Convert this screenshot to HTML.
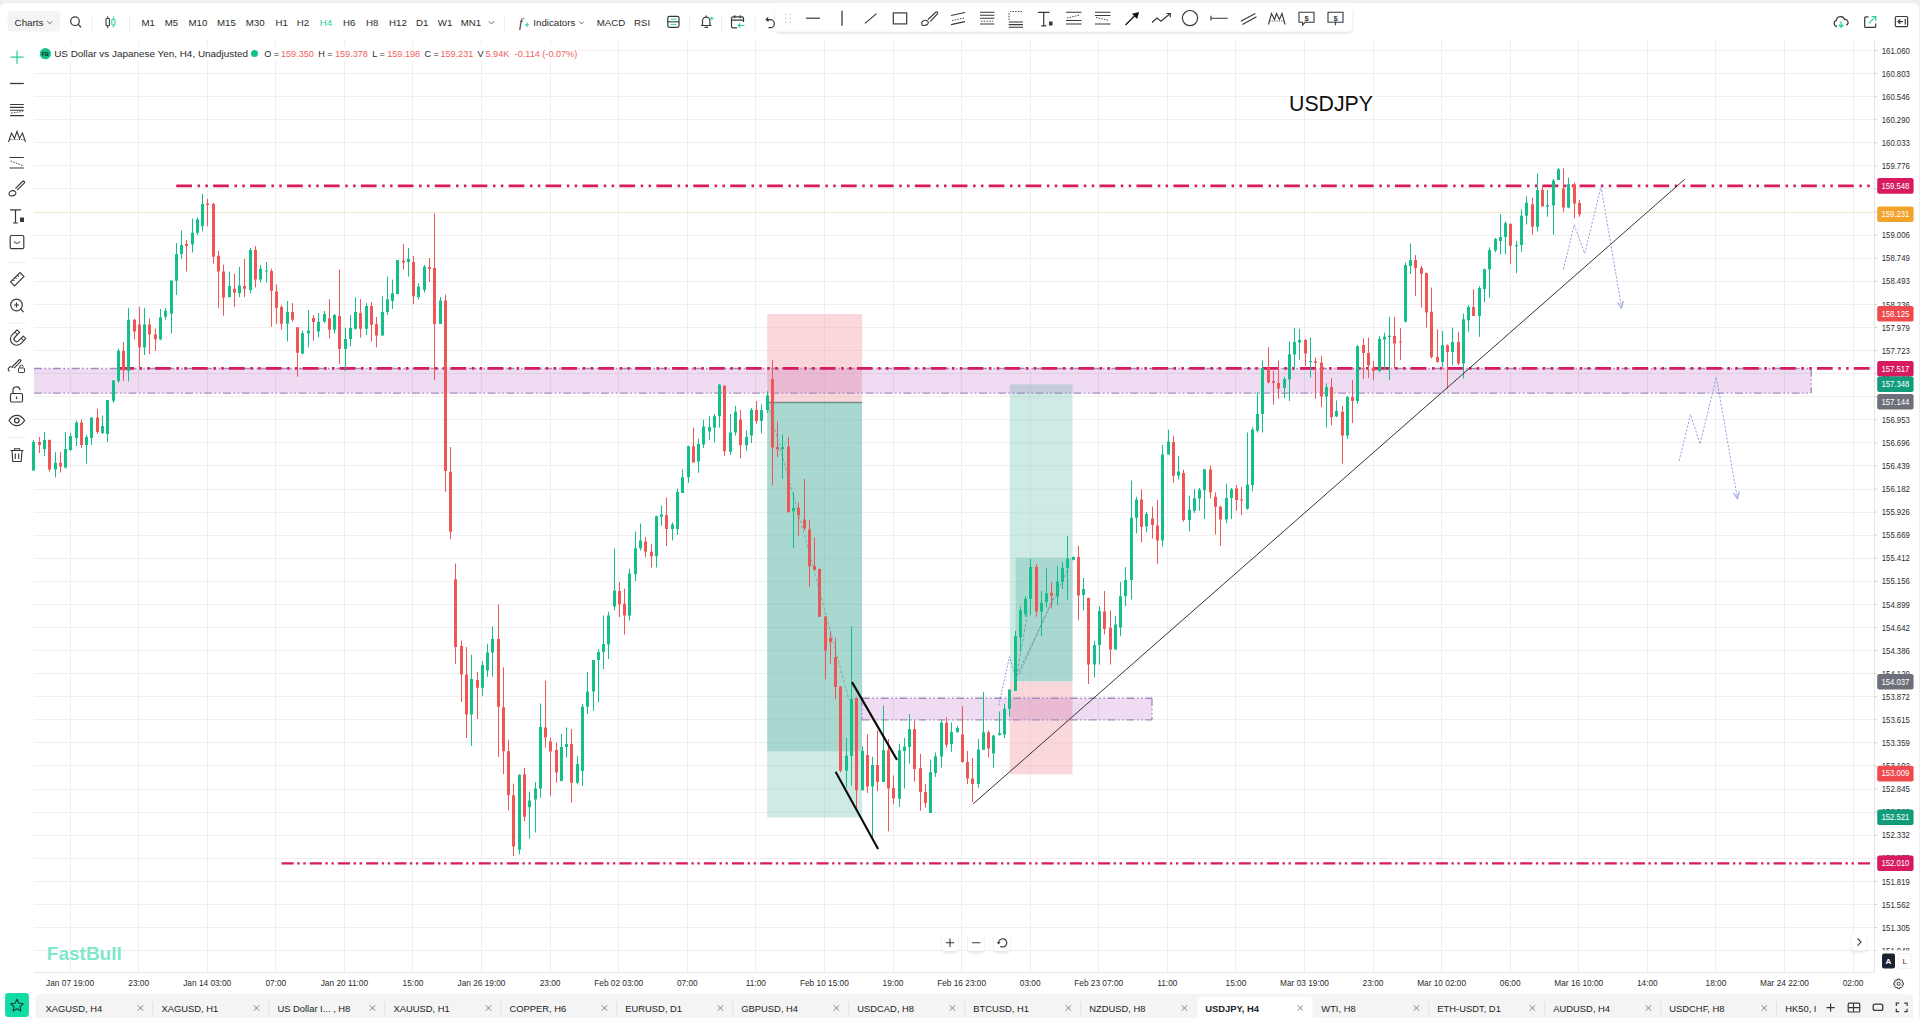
<!DOCTYPE html>
<html><head><meta charset="utf-8">
<style>
html,body{margin:0;padding:0;width:1920px;height:1018px;overflow:hidden;background:#efefef;}
svg{position:absolute;left:0;top:0;}
</style></head><body>
<svg width="1920" height="1018" viewBox="0 0 1920 1018" shape-rendering="auto">
<rect x="0" y="0" width="1920" height="1018" fill="#efefef"/>
<rect x="0" y="3" width="1919" height="1030" rx="6" fill="#ffffff"/>
<path d="M70.50 40V972.5M138.50 40V972.5M207.50 40V972.5M275.50 40V972.5M344.50 40V972.5M412.50 40V972.5M481.50 40V972.5M550.50 40V972.5M618.50 40V972.5M687.50 40V972.5M755.50 40V972.5M824.50 40V972.5M893.50 40V972.5M961.50 40V972.5M1030.50 40V972.5M1098.50 40V972.5M1167.50 40V972.5M1235.50 40V972.5M1304.50 40V972.5M1373.50 40V972.5M1441.50 40V972.5M1510.50 40V972.5M1578.50 40V972.5M1647.50 40V972.5M1715.50 40V972.5M1784.50 40V972.5M1853.50 40V972.5M34 50.50H1874.5M34 73.50H1874.5M34 96.50H1874.5M34 119.50H1874.5M34 142.50H1874.5M34 165.50H1874.5M34 188.50H1874.5M34 212.50H1874.5M34 235.50H1874.5M34 258.50H1874.5M34 281.50H1874.5M34 304.50H1874.5M34 327.50H1874.5M34 350.50H1874.5M34 373.50H1874.5M34 396.50H1874.5M34 419.50H1874.5M34 442.50H1874.5M34 465.50H1874.5M34 489.50H1874.5M34 512.50H1874.5M34 535.50H1874.5M34 558.50H1874.5M34 581.50H1874.5M34 604.50H1874.5M34 627.50H1874.5M34 650.50H1874.5M34 673.50H1874.5M34 696.50H1874.5M34 719.50H1874.5M34 742.50H1874.5M34 765.50H1874.5M34 789.50H1874.5M34 812.50H1874.5M34 835.50H1874.5M34 858.50H1874.5M34 881.50H1874.5M34 904.50H1874.5M34 927.50H1874.5M34 950.50H1874.5" stroke="#efefef" stroke-width="1" fill="none"/>
<path d="M1874.5 40V972.5M34 972.5H1874.5" stroke="#e6e6e6" stroke-width="1" fill="none"/>
<rect x="767.2" y="314" width="94.9" height="88.5" fill="#fad7da"/>
<rect x="767.2" y="402.5" width="94.9" height="349.2" fill="#a8d8d0"/>
<rect x="767.2" y="751.7" width="94.9" height="65.8" fill="#cdeae5"/>
<rect x="1009.8" y="384.4" width="62.7" height="297.1" fill="#cdeae5"/>
<rect x="1015.6" y="557.7" width="56.9" height="123.8" fill="#a8d8d0"/>
<rect x="1009.8" y="681.5" width="62.7" height="92.8" fill="#fad7da"/>
<path d="M767.2 327.46H862.1M767.2 350.54H862.1M767.2 373.62H862.1M767.2 396.70H862.1M1009.8 396.70H1072.5M767.2 419.78H862.1M1009.8 419.78H1072.5M767.2 442.86H862.1M1009.8 442.86H1072.5M767.2 465.94H862.1M1009.8 465.94H1072.5M767.2 489.02H862.1M1009.8 489.02H1072.5M767.2 512.10H862.1M1009.8 512.10H1072.5M767.2 535.18H862.1M1009.8 535.18H1072.5M767.2 558.26H862.1M1009.8 558.26H1072.5M767.2 581.34H862.1M1009.8 581.34H1072.5M767.2 604.42H862.1M1009.8 604.42H1072.5M767.2 627.50H862.1M1009.8 627.50H1072.5M767.2 650.58H862.1M1009.8 650.58H1072.5M767.2 673.66H862.1M1009.8 673.66H1072.5M767.2 696.74H862.1M1009.8 696.74H1072.5M767.2 719.82H862.1M1009.8 719.82H1072.5M767.2 742.90H862.1M1009.8 742.90H1072.5M767.2 765.98H862.1M1009.8 765.98H1072.5M767.2 789.06H862.1M767.2 812.14H862.1M824.43 314V817.5M1030.15 384.4V774.3" stroke="#000" stroke-opacity="0.045" stroke-width="1" fill="none"/>
<path d="M767.2 402.5H862.1" stroke="#6f8f89" stroke-width="1.6"/>
<rect x="34" y="368.6" width="1777.2" height="24.5" fill="#9c27b0" fill-opacity="0.16"/>
<rect x="861.8" y="698.2" width="290.2" height="21.6" fill="#9c27b0" fill-opacity="0.16"/>
<path d="M34 368.5H1811.2M34 393.1H1811.2M1811.2 368.5V393.1" stroke="#a08dc0" stroke-width="1.35" stroke-dasharray="7.9 2.6 1.6 2.6 1.6 2.6" fill="none"/>
<path d="M861.8 698.2H1152M861.8 719.8H1152M1152 698.2V719.8M861.8 698.2V719.8" stroke="#a08dc0" stroke-width="1.35" stroke-dasharray="7.9 2.6 1.6 2.6 1.6 2.6" fill="none"/>
<path d="M176.25 185.9H1870" stroke="#d81b5e" stroke-width="2.9" stroke-dasharray="15.7 5.6 2.5 5.35 2.5 5.28" fill="none"/>
<path d="M118.2 368.4H1870" stroke="#d81b5e" stroke-width="2.9" stroke-dasharray="15.7 5.6 2.5 5.35 2.5 5.28" fill="none"/>
<path d="M281.6 863.4H1870" stroke="#d81b5e" stroke-width="2.4" stroke-dasharray="12.15 3.5 2.4 3.6 2.4 4.1" fill="none"/>
<path d="M34 212.5H1874" stroke="#eed98f" stroke-width="1" stroke-dasharray="1 1" opacity="0.6" fill="none"/>
<path d="M33.50 440.0V470.6M44.50 432.0V456.0M55.50 452.0V477.5M65.50 432.0V468.6M70.50 433.0V451.0M76.50 420.5V446.0M86.50 435.0V463.7M91.50 417.5V445.0M102.50 415.6V434.0M107.50 400.0V442.0M113.50 380.0V402.8M118.50 348.8V383.0M128.50 307.9V381.5M144.50 307.9V355.0M160.50 308.9V340.3M165.50 307.9V319.7M171.50 280.4V333.4M176.50 243.0V295.0M181.50 230.3V258.8M192.50 218.5V252.5M197.50 217.5V235.0M202.50 193.9V231.3M229.50 271.7V297.2M239.50 266.8V297.2M250.50 248.0V293.3M260.50 264.8V282.5M266.50 262.0V282.5M287.50 301.0V341.5M302.50 330.6V354.2M308.50 310.0V347.3M318.50 313.0V337.5M324.50 311.0V322.8M334.50 314.0V333.6M345.50 327.7V371.0M350.50 315.0V346.4M355.50 297.2V329.7M366.50 303.0V335.0M382.50 296.3V335.6M387.50 276.6V315.0M392.50 279.6V309.0M397.50 260.0V294.3M408.50 248.0V276.6M418.50 283.0V299.5M424.50 265.0V292.5M440.50 297.0V324.0M471.50 654.8V746.0M482.50 661.0V695.7M487.50 643.8V676.8M492.50 626.5V676.8M519.50 774.3V854.5M529.50 791.6V838.7M535.50 782.0V832.5M540.50 703.5V797.9M561.50 734.0V781.0M566.50 727.5V757.6M577.50 756.0V784.3M582.50 704.0V786.0M587.50 672.0V714.0M593.50 660.6V710.8M598.50 649.0V702.4M603.50 615.5V669.0M608.50 612.0V659.0M614.50 548.6V610.4M629.50 568.6V620.5M635.50 531.4V581.0M640.50 523.5V550.6M656.50 515.6V567.5M661.50 505.4V525.8M672.50 522.4V540.4M677.50 488.5V534.8M682.50 469.3V493.0M688.50 445.6V482.9M698.50 438.8V472.7M703.50 419.7V448.0M709.50 416.3V440.0M714.50 414.0V442.2M719.50 384.0V427.6M730.50 414.0V455.0M735.50 405.8V435.6M746.50 430.2V450.7M751.50 408.0V443.0M761.50 404.3V433.4M767.50 391.3V413.0M782.50 434.5V478.8M793.50 492.8V548.0M846.50 738.0V787.5M851.50 626.0V785.7M862.50 746.5V790.3M872.50 756.8V837.0M883.50 705.4V782.0M899.50 743.7V807.0M904.50 738.0V788.5M909.50 714.0V763.6M930.50 759.6V813.0M935.50 752.5V777.0M941.50 720.3V767.5M951.50 722.7V751.8M957.50 725.8V732.9M978.50 739.0V788.0M983.50 692.0V749.7M993.50 735.0V767.6M999.50 711.4V735.6M1004.50 703.7V738.2M1009.50 691.0V716.5M1015.50 630.8V691.0M1020.50 606.5V651.0M1025.50 596.3V616.7M1030.50 559.0V615.4M1041.50 591.2V636.0M1046.50 568.4V607.3M1057.50 566.2V605.1M1062.50 561.9V589.0M1067.50 536.0V599.7M1073.50 556.5V560.4M1083.50 578.0V610.5M1094.50 640.8V677.6M1099.50 606.2V664.6M1115.50 616.0V649.5M1120.50 582.0V636.2M1125.50 567.0V606.0M1131.50 480.5V599.5M1136.50 496.8V533.5M1146.50 512.0V532.4M1162.50 444.9V546.5M1168.50 429.7V454.6M1178.50 455.7V479.5M1189.50 495.7V531.4M1194.50 488.8V513.0M1199.50 488.0V510.8M1204.50 469.2V519.0M1226.50 483.6V523.2M1231.50 488.0V519.0M1247.50 432.5V509.8M1252.50 427.3V491.2M1257.50 392.3V432.5M1262.50 360.3V432.5M1284.50 376.7V398.0M1289.50 341.4V401.0M1294.50 328.1V369.3M1299.50 328.8V359.8M1310.50 337.7V377.4M1326.50 383.3V427.5M1336.50 400.3V417.2M1347.50 396.0V438.9M1357.50 345.0V403.8M1379.50 336.0V372.2M1384.50 332.7V370.0M1389.50 316.8V380.0M1405.50 262.6V322.5M1410.50 243.4V274.0M1442.50 331.0V366.9M1452.50 327.7V365.2M1463.50 313.5V378.6M1468.50 305.0V331.8M1479.50 286.0V336.8M1484.50 268.5V302.3M1489.50 247.3V297.6M1495.50 237.8V252.0M1500.50 214.2V254.3M1505.50 221.3V254.3M1516.50 241.0V273.2M1521.50 209.5V252.0M1526.50 196.2V224.5M1537.50 173.4V231.5M1547.50 190.0V216.8M1553.50 178.9V234.7M1558.50 168.0V180.0M1568.50 177.5V208.4" stroke="#14bf8c" stroke-width="1" fill="none"/>
<path d="M39.50 437.0V453.0M49.50 439.5V471.5M60.50 452.0V472.5M81.50 419.5V448.0M97.50 408.7V434.0M123.50 342.0V381.0M134.50 318.7V339.3M139.50 306.9V367.8M149.50 318.7V354.0M155.50 328.5V351.0M186.50 240.0V271.5M207.50 198.8V226.3M213.50 202.8V263.7M218.50 250.9V307.9M223.50 264.7V315.7M234.50 273.7V307.0M244.50 259.0V297.2M255.50 246.0V287.4M271.50 268.8V326.7M276.50 284.5V323.8M281.50 305.0V329.7M292.50 303.0V321.8M297.50 327.3V376.8M313.50 315.0V340.5M329.50 299.2V338.5M339.50 269.7V364.0M360.50 299.2V337.5M371.50 302.0V341.5M376.50 317.0V347.3M403.50 244.0V269.7M413.50 256.0V304.0M429.50 258.0V282.0M434.50 213.4V380.0M445.50 294.6V492.0M450.50 447.0V539.0M455.50 563.6V664.0M461.50 640.6V702.0M466.50 647.0V738.0M477.50 672.0V719.0M498.50 604.5V757.0M503.50 667.4V774.0M508.50 739.7V810.4M513.50 783.7V856.0M524.50 768.0V821.4M545.50 680.7V747.6M550.50 737.5V796.0M556.50 742.5V782.7M571.50 729.0V802.7M619.50 582.0V617.0M624.50 588.7V634.5M645.50 537.0V557.4M651.50 543.8V567.5M666.50 497.5V546.0M693.50 427.6V462.6M724.50 385.3V455.8M740.50 410.0V458.3M756.50 401.0V423.7M772.50 360.0V485.3M777.50 421.6V457.2M788.50 436.7V512.3M798.50 502.5V536.0M804.50 478.8V530.6M809.50 519.8V586.8M814.50 537.5V570.0M819.50 568.4V616.8M825.50 616.0V679.4M830.50 631.0V663.6M835.50 637.7V699.0M840.50 685.9V772.6M856.50 697.6V809.0M867.50 734.4V793.0M877.50 730.6V791.3M888.50 739.0V831.4M893.50 775.4V804.3M914.50 720.3V781.6M920.50 754.0V810.7M925.50 784.0V807.6M946.50 717.2V747.8M962.50 706.2V762.8M967.50 751.0V784.0M972.50 758.0V802.0M988.50 730.5V757.4M1036.50 564.3V616.7M1051.50 582.4V608.4M1078.50 545.7V620.3M1088.50 597.6V684.0M1104.50 591.0V634.3M1110.50 610.5V664.6M1141.50 489.2V542.2M1152.50 506.5V538.5M1157.50 500.0V563.8M1173.50 436.2V482.7M1183.50 469.7V521.6M1210.50 465.5V498.5M1215.50 492.3V534.5M1220.50 505.7V545.9M1236.50 485.0V510.8M1241.50 487.0V515.0M1268.50 347.2V383.3M1273.50 370.8V404.7M1278.50 360.5V398.8M1305.50 339.0V365.7M1315.50 357.6V398.8M1321.50 356.0V406.9M1331.50 378.2V425.3M1342.50 406.0V463.7M1352.50 380.0V423.0M1363.50 338.3V379.0M1368.50 337.6V377.9M1373.50 361.0V380.0M1394.50 316.8V368.8M1400.50 328.0V359.8M1415.50 255.0V296.0M1421.50 265.9V307.6M1426.50 272.6V327.7M1431.50 287.6V358.5M1437.50 329.3V362.7M1447.50 344.4V388.6M1458.50 331.8V365.2M1473.50 289.3V316.0M1510.50 223.7V263.8M1532.50 197.7V234.7M1542.50 185.2V206.4M1563.50 168.4V211.8M1574.50 182.6V218.4M1579.50 200.0V216.8" stroke="#ef5656" stroke-width="1" fill="none"/>
<path d="M32.00 442.0h3V470.6h-3zM43.00 440.0h3V449.0h-3zM54.00 462.7h3V469.6h-3zM64.00 449.0h3V467.6h-3zM69.00 436.0h3V450.0h-3zM75.00 422.4h3V438.0h-3zM85.00 437.0h3V445.0h-3zM90.00 417.5h3V438.0h-3zM101.00 426.0h3V433.0h-3zM106.00 400.0h3V434.0h-3zM112.00 380.6h3V400.8h-3zM117.00 350.7h3V381.0h-3zM127.00 319.7h3V370.7h-3zM143.00 324.6h3V347.2h-3zM159.00 317.3h3V339.3h-3zM164.00 310.8h3V316.7h-3zM170.00 280.4h3V313.8h-3zM175.00 253.9h3V280.8h-3zM180.00 245.0h3V253.9h-3zM191.00 232.8h3V244.6h-3zM196.00 219.5h3V232.8h-3zM201.00 204.0h3V226.3h-3zM228.00 286.0h3V297.2h-3zM238.00 285.5h3V293.3h-3zM249.00 250.0h3V290.0h-3zM259.00 268.8h3V279.6h-3zM265.00 270.4h3V271.6h-3zM286.00 312.0h3V323.8h-3zM301.00 333.2h3V353.6h-3zM307.00 330.6h3V333.6h-3zM317.00 321.8h3V331.6h-3zM323.00 314.0h3V321.8h-3zM333.00 315.0h3V329.7h-3zM344.00 339.0h3V349.0h-3zM349.00 328.0h3V339.0h-3zM354.00 312.0h3V328.7h-3zM365.00 306.0h3V328.7h-3zM381.00 312.0h3V335.6h-3zM386.00 299.2h3V312.0h-3zM391.00 293.3h3V301.0h-3zM396.00 260.0h3V294.0h-3zM407.00 259.0h3V262.0h-3zM417.00 286.5h3V297.0h-3zM423.00 266.4h3V290.0h-3zM439.00 300.6h3V324.0h-3zM470.00 679.0h3V714.5h-3zM481.00 665.0h3V687.8h-3zM486.00 652.6h3V670.5h-3zM491.00 639.0h3V652.6h-3zM518.00 775.0h3V849.7h-3zM528.00 800.4h3V807.3h-3zM534.00 788.4h3V799.4h-3zM539.00 727.0h3V788.4h-3zM560.00 747.0h3V781.0h-3zM565.00 744.0h3V747.0h-3zM576.00 764.0h3V782.7h-3zM581.00 706.8h3V771.0h-3zM586.00 691.4h3V706.8h-3zM592.00 660.0h3V691.4h-3zM597.00 652.0h3V660.0h-3zM602.00 644.0h3V652.0h-3zM607.00 615.5h3V644.5h-3zM613.00 590.4h3V606.4h-3zM628.00 573.6h3V615.5h-3zM634.00 548.3h3V574.3h-3zM639.00 540.4h3V548.3h-3zM655.00 516.3h3V556.2h-3zM660.00 514.5h3V516.7h-3zM671.00 524.6h3V529.0h-3zM676.00 492.0h3V529.0h-3zM681.00 477.2h3V493.0h-3zM687.00 446.3h3V477.2h-3zM697.00 444.0h3V461.4h-3zM702.00 426.4h3V444.5h-3zM708.00 427.0h3V431.4h-3zM713.00 416.3h3V427.6h-3zM718.00 384.7h3V416.3h-3zM729.00 432.4h3V451.8h-3zM734.00 411.8h3V432.4h-3zM745.00 436.7h3V445.3h-3zM750.00 409.7h3V435.6h-3zM760.00 410.0h3V421.0h-3zM766.00 395.6h3V410.0h-3zM781.00 447.0h3V449.0h-3zM792.00 508.0h3V511.2h-3zM845.00 755.8h3V770.7h-3zM850.00 699.0h3V755.8h-3zM861.00 751.0h3V790.3h-3zM871.00 765.0h3V786.6h-3zM882.00 750.2h3V782.0h-3zM898.00 750.2h3V798.7h-3zM903.00 746.5h3V751.0h-3zM908.00 729.0h3V747.0h-3zM929.00 772.2h3V813.0h-3zM934.00 756.2h3V773.0h-3zM940.00 722.7h3V756.5h-3zM950.00 732.0h3V744.0h-3zM956.00 728.0h3V732.0h-3zM977.00 749.4h3V784.0h-3zM982.00 732.3h3V749.7h-3zM992.00 735.6h3V753.6h-3zM998.00 733.0h3V735.0h-3zM1003.00 708.8h3V734.4h-3zM1008.00 689.6h3V708.8h-3zM1014.00 636.0h3V691.0h-3zM1019.00 610.3h3V637.2h-3zM1024.00 598.8h3V614.2h-3zM1029.00 566.9h3V598.8h-3zM1040.00 602.7h3V611.6h-3zM1045.00 593.2h3V601.9h-3zM1056.00 581.4h3V596.5h-3zM1061.00 567.7h3V582.0h-3zM1066.00 558.6h3V567.7h-3zM1072.00 557.0h3V559.7h-3zM1082.00 589.0h3V595.0h-3zM1093.00 645.0h3V664.6h-3zM1098.00 611.0h3V645.0h-3zM1114.00 624.6h3V649.5h-3zM1119.00 596.2h3V627.6h-3zM1124.00 580.0h3V596.2h-3zM1130.00 517.7h3V580.0h-3zM1135.00 499.6h3V517.7h-3zM1145.00 514.0h3V526.4h-3zM1161.00 454.6h3V540.6h-3zM1167.00 441.6h3V454.6h-3zM1177.00 471.5h3V475.8h-3zM1188.00 509.7h3V519.9h-3zM1193.00 498.3h3V510.8h-3zM1198.00 489.8h3V498.5h-3zM1203.00 469.2h3V490.2h-3zM1225.00 498.0h3V519.5h-3zM1230.00 489.2h3V498.0h-3zM1246.00 484.4h3V508.8h-3zM1251.00 429.4h3V485.0h-3zM1256.00 414.0h3V430.8h-3zM1261.00 368.0h3V414.0h-3zM1283.00 379.0h3V387.7h-3zM1288.00 354.2h3V379.6h-3zM1293.00 342.0h3V354.6h-3zM1298.00 340.0h3V342.4h-3zM1309.00 360.9h3V362.1h-3zM1325.00 387.0h3V396.6h-3zM1335.00 411.0h3V416.5h-3zM1346.00 397.0h3V435.5h-3zM1356.00 346.2h3V401.0h-3zM1378.00 339.0h3V371.0h-3zM1383.00 336.7h3V339.4h-3zM1388.00 335.8h3V337.0h-3zM1404.00 264.9h3V321.4h-3zM1409.00 260.3h3V266.0h-3zM1441.00 345.2h3V361.9h-3zM1451.00 341.9h3V351.9h-3zM1462.00 319.3h3V363.6h-3zM1467.00 307.1h3V320.2h-3zM1478.00 288.0h3V316.0h-3zM1483.00 269.3h3V289.0h-3zM1488.00 250.0h3V269.3h-3zM1494.00 239.0h3V250.4h-3zM1499.00 237.0h3V241.0h-3zM1504.00 223.2h3V237.0h-3zM1515.00 245.0h3V246.2h-3zM1520.00 215.8h3V245.0h-3zM1525.00 202.8h3V215.8h-3zM1536.00 189.9h3V226.8h-3zM1546.00 205.0h3V206.4h-3zM1552.00 180.4h3V205.6h-3zM1557.00 169.2h3V180.0h-3zM1567.00 184.2h3V207.6h-3z" fill="#14bf8c"/>
<path d="M38.00 442.0h3V445.0h-3zM48.00 440.0h3V469.6h-3zM59.00 462.7h3V466.6h-3zM80.00 422.4h3V445.0h-3zM96.00 417.5h3V432.0h-3zM122.00 350.7h3V370.4h-3zM133.00 319.7h3V331.5h-3zM138.00 324.6h3V347.2h-3zM148.00 324.6h3V334.4h-3zM154.00 334.4h3V339.3h-3zM185.00 244.0h3V246.0h-3zM206.00 203.5h3V205.0h-3zM212.00 204.0h3V256.8h-3zM217.00 255.8h3V271.5h-3zM222.00 271.5h3V297.7h-3zM233.00 288.8h3V292.7h-3zM243.00 286.0h3V288.8h-3zM254.00 250.0h3V279.6h-3zM270.00 271.0h3V290.8h-3zM275.00 291.4h3V307.7h-3zM280.00 307.0h3V323.8h-3zM291.00 312.0h3V319.8h-3zM296.00 327.3h3V352.8h-3zM312.00 318.0h3V322.0h-3zM328.00 318.3h3V329.7h-3zM338.00 316.0h3V349.0h-3zM359.00 313.0h3V328.7h-3zM370.00 306.0h3V324.8h-3zM375.00 324.0h3V335.6h-3zM402.00 260.5h3V262.5h-3zM412.00 262.0h3V296.3h-3zM428.00 267.0h3V269.0h-3zM433.00 268.0h3V324.0h-3zM444.00 300.6h3V471.0h-3zM449.00 471.8h3V531.8h-3zM454.00 579.3h3V647.0h-3zM460.00 646.0h3V674.6h-3zM465.00 674.6h3V714.5h-3zM476.00 680.0h3V687.8h-3zM497.00 639.0h3V706.7h-3zM502.00 707.3h3V751.3h-3zM507.00 751.3h3V795.3h-3zM512.00 795.3h3V846.6h-3zM523.00 774.3h3V816.7h-3zM544.00 727.5h3V737.5h-3zM549.00 741.5h3V751.6h-3zM555.00 750.0h3V772.6h-3zM570.00 744.0h3V782.7h-3zM618.00 591.0h3V604.4h-3zM623.00 603.7h3V615.5h-3zM644.00 541.6h3V551.7h-3zM650.00 551.7h3V556.2h-3zM665.00 515.0h3V529.0h-3zM692.00 446.3h3V462.6h-3zM723.00 385.8h3V451.3h-3zM739.00 419.4h3V445.3h-3zM755.00 410.0h3V421.0h-3zM771.00 379.0h3V447.5h-3zM776.00 447.0h3V449.6h-3zM787.00 446.4h3V512.3h-3zM797.00 508.0h3V515.0h-3zM803.00 519.4h3V528.5h-3zM808.00 529.5h3V566.3h-3zM813.00 566.0h3V570.0h-3zM818.00 569.0h3V616.8h-3zM824.00 616.5h3V650.5h-3zM829.00 638.0h3V642.0h-3zM834.00 656.9h3V687.0h-3zM839.00 686.4h3V770.7h-3zM855.00 698.0h3V790.3h-3zM866.00 755.0h3V786.6h-3zM876.00 765.0h3V782.0h-3zM887.00 750.2h3V788.5h-3zM892.00 788.0h3V798.4h-3zM913.00 729.0h3V769.0h-3zM919.00 768.3h3V791.9h-3zM924.00 791.9h3V802.9h-3zM945.00 722.7h3V744.7h-3zM961.00 734.5h3V762.0h-3zM966.00 762.0h3V778.5h-3zM971.00 778.5h3V784.0h-3zM987.00 732.3h3V748.4h-3zM1035.00 566.9h3V611.6h-3zM1050.00 592.8h3V595.8h-3zM1077.00 557.0h3V595.4h-3zM1087.00 598.0h3V664.6h-3zM1103.00 611.6h3V629.0h-3zM1109.00 627.8h3V649.5h-3zM1140.00 499.6h3V527.0h-3zM1151.00 518.4h3V524.9h-3zM1156.00 525.5h3V540.6h-3zM1172.00 442.0h3V475.8h-3zM1182.00 473.0h3V519.9h-3zM1209.00 469.6h3V492.3h-3zM1214.00 496.8h3V506.7h-3zM1219.00 506.7h3V519.5h-3zM1235.00 488.6h3V500.0h-3zM1240.00 499.4h3V500.6h-3zM1267.00 367.4h3V382.6h-3zM1272.00 381.0h3V383.0h-3zM1277.00 383.0h3V388.5h-3zM1304.00 339.9h3V353.6h-3zM1314.00 361.2h3V362.7h-3zM1320.00 362.7h3V396.6h-3zM1330.00 387.0h3V416.9h-3zM1341.00 411.8h3V435.5h-3zM1351.00 397.0h3V401.0h-3zM1362.00 345.0h3V353.0h-3zM1367.00 353.0h3V365.4h-3zM1372.00 367.7h3V371.0h-3zM1393.00 336.0h3V343.5h-3zM1399.00 341.4h3V342.6h-3zM1414.00 260.0h3V268.0h-3zM1420.00 268.0h3V273.7h-3zM1425.00 273.0h3V312.6h-3zM1430.00 311.8h3V356.9h-3zM1436.00 356.9h3V361.9h-3zM1446.00 345.2h3V351.9h-3zM1457.00 341.9h3V363.6h-3zM1472.00 307.1h3V316.0h-3zM1509.00 223.7h3V245.7h-3zM1531.00 204.3h3V226.8h-3zM1541.00 189.9h3V206.4h-3zM1562.00 188.4h3V207.6h-3zM1573.00 184.2h3V203.4h-3zM1578.00 203.1h3V214.3h-3z" fill="#ef5656"/>
<path d="M768 405L808 548L830 630L849 700" stroke="#5c9e92" stroke-width="1" stroke-dasharray="3 2" fill="none" opacity="0.7"/>
<path d="M998.8 705.3L1009.5 656.7L1014.8 674.4" stroke="#6f7fcf" stroke-width="1" stroke-dasharray="2 1.5" fill="none" opacity="0.8"/>
<path d="M1016.5 676.2L1028 610.7M1016.5 676.2L1067.8 570M1019.5 674L1053.7 596.6" stroke="#5c8f9e" stroke-width="1" stroke-dasharray="3 2" fill="none" opacity="0.75"/>
<path d="M973.1 803.9L1684.7 179.3" stroke="#2a2a2a" stroke-width="0.95" fill="none"/>
<path d="M852 682.1L897 759.9M835.6 771.7L878.1 849.1" stroke="#0a0a0a" stroke-width="2.1" fill="none"/>
<path d="M1563.4 269.4L1574.2 225L1584.7 253.5L1601 186.7L1621.5 307" stroke="#93a4e2" stroke-width="1" stroke-dasharray="2.2 1.6" fill="none"/>
<path d="M1617.5 302.5L1621.5 308L1623.3 301" stroke="#93a4e2" stroke-width="1.1" fill="none"/>
<path d="M1679.1 460.9L1690.5 414.5L1700 444L1716.4 377L1737.3 497.7" stroke="#93a4e2" stroke-width="1" stroke-dasharray="2.2 1.6" fill="none"/>
<path d="M1733.5 493L1737.3 498.5L1739.5 491.5" stroke="#93a4e2" stroke-width="1.1" fill="none"/>
<path d="M1874.5 50.50h2.5M1874.5 73.58h2.5M1874.5 96.66h2.5M1874.5 119.74h2.5M1874.5 142.82h2.5M1874.5 165.90h2.5M1874.5 188.98h2.5M1874.5 212.06h2.5M1874.5 235.14h2.5M1874.5 258.22h2.5M1874.5 281.30h2.5M1874.5 304.38h2.5M1874.5 327.46h2.5M1874.5 350.54h2.5M1874.5 373.62h2.5M1874.5 396.70h2.5M1874.5 419.78h2.5M1874.5 442.86h2.5M1874.5 465.94h2.5M1874.5 489.02h2.5M1874.5 512.10h2.5M1874.5 535.18h2.5M1874.5 558.26h2.5M1874.5 581.34h2.5M1874.5 604.42h2.5M1874.5 627.50h2.5M1874.5 650.58h2.5M1874.5 673.66h2.5M1874.5 696.74h2.5M1874.5 719.82h2.5M1874.5 742.90h2.5M1874.5 765.98h2.5M1874.5 789.06h2.5M1874.5 812.14h2.5M1874.5 835.22h2.5M1874.5 858.30h2.5M1874.5 881.38h2.5M1874.5 904.46h2.5M1874.5 927.54h2.5M1874.5 950.62h2.5" stroke="#d0d0d0" stroke-width="1"/>
<g font-family="Liberation Sans, sans-serif" font-size="8.5" fill="#2b2b2b"><text x="1881.8" y="53.6" textLength="28" lengthAdjust="spacingAndGlyphs">161.060</text><text x="1881.8" y="76.7" textLength="28" lengthAdjust="spacingAndGlyphs">160.803</text><text x="1881.8" y="99.8" textLength="28" lengthAdjust="spacingAndGlyphs">160.546</text><text x="1881.8" y="122.8" textLength="28" lengthAdjust="spacingAndGlyphs">160.290</text><text x="1881.8" y="145.9" textLength="28" lengthAdjust="spacingAndGlyphs">160.033</text><text x="1881.8" y="169.0" textLength="28" lengthAdjust="spacingAndGlyphs">159.776</text><text x="1881.8" y="192.1" textLength="28" lengthAdjust="spacingAndGlyphs">159.519</text><text x="1881.8" y="215.2" textLength="28" lengthAdjust="spacingAndGlyphs">159.263</text><text x="1881.8" y="238.2" textLength="28" lengthAdjust="spacingAndGlyphs">159.006</text><text x="1881.8" y="261.3" textLength="28" lengthAdjust="spacingAndGlyphs">158.749</text><text x="1881.8" y="284.4" textLength="28" lengthAdjust="spacingAndGlyphs">158.493</text><text x="1881.8" y="307.5" textLength="28" lengthAdjust="spacingAndGlyphs">158.236</text><text x="1881.8" y="330.6" textLength="28" lengthAdjust="spacingAndGlyphs">157.979</text><text x="1881.8" y="353.6" textLength="28" lengthAdjust="spacingAndGlyphs">157.723</text><text x="1881.8" y="376.7" textLength="28" lengthAdjust="spacingAndGlyphs">157.466</text><text x="1881.8" y="399.8" textLength="28" lengthAdjust="spacingAndGlyphs">157.209</text><text x="1881.8" y="422.9" textLength="28" lengthAdjust="spacingAndGlyphs">156.953</text><text x="1881.8" y="446.0" textLength="28" lengthAdjust="spacingAndGlyphs">156.696</text><text x="1881.8" y="469.0" textLength="28" lengthAdjust="spacingAndGlyphs">156.439</text><text x="1881.8" y="492.1" textLength="28" lengthAdjust="spacingAndGlyphs">156.182</text><text x="1881.8" y="515.2" textLength="28" lengthAdjust="spacingAndGlyphs">155.926</text><text x="1881.8" y="538.3" textLength="28" lengthAdjust="spacingAndGlyphs">155.669</text><text x="1881.8" y="561.4" textLength="28" lengthAdjust="spacingAndGlyphs">155.412</text><text x="1881.8" y="584.4" textLength="28" lengthAdjust="spacingAndGlyphs">155.156</text><text x="1881.8" y="607.5" textLength="28" lengthAdjust="spacingAndGlyphs">154.899</text><text x="1881.8" y="630.6" textLength="28" lengthAdjust="spacingAndGlyphs">154.642</text><text x="1881.8" y="653.7" textLength="28" lengthAdjust="spacingAndGlyphs">154.386</text><text x="1881.8" y="676.8" textLength="28" lengthAdjust="spacingAndGlyphs">154.129</text><text x="1881.8" y="699.8" textLength="28" lengthAdjust="spacingAndGlyphs">153.872</text><text x="1881.8" y="722.9" textLength="28" lengthAdjust="spacingAndGlyphs">153.615</text><text x="1881.8" y="746.0" textLength="28" lengthAdjust="spacingAndGlyphs">153.359</text><text x="1881.8" y="769.1" textLength="28" lengthAdjust="spacingAndGlyphs">153.102</text><text x="1881.8" y="792.2" textLength="28" lengthAdjust="spacingAndGlyphs">152.845</text><text x="1881.8" y="815.2" textLength="28" lengthAdjust="spacingAndGlyphs">152.589</text><text x="1881.8" y="838.3" textLength="28" lengthAdjust="spacingAndGlyphs">152.332</text><text x="1881.8" y="861.4" textLength="28" lengthAdjust="spacingAndGlyphs">152.075</text><text x="1881.8" y="884.5" textLength="28" lengthAdjust="spacingAndGlyphs">151.819</text><text x="1881.8" y="907.6" textLength="28" lengthAdjust="spacingAndGlyphs">151.562</text><text x="1881.8" y="930.6" textLength="28" lengthAdjust="spacingAndGlyphs">151.305</text><text x="1881.8" y="953.7" textLength="28" lengthAdjust="spacingAndGlyphs">151.048</text></g>
<rect x="1876" y="950.4" width="42" height="21.5" fill="#ffffff"/>
<rect x="1877.2" y="178.1" width="36.4" height="15.6" rx="2" fill="#d81b60"/>
<text x="1895.4" y="188.7" text-anchor="middle" font-family="Liberation Sans, sans-serif" font-size="8.5" fill="#ffffff" textLength="28" lengthAdjust="spacingAndGlyphs">159.548</text>
<rect x="1877.2" y="206.4" width="36.4" height="15.6" rx="2" fill="#f2a32c"/>
<text x="1895.4" y="217.0" text-anchor="middle" font-family="Liberation Sans, sans-serif" font-size="8.5" fill="#ffffff" textLength="28" lengthAdjust="spacingAndGlyphs">159.231</text>
<rect x="1877.2" y="305.9" width="36.4" height="15.6" rx="2" fill="#ef4a4e"/>
<text x="1895.4" y="316.5" text-anchor="middle" font-family="Liberation Sans, sans-serif" font-size="8.5" fill="#ffffff" textLength="28" lengthAdjust="spacingAndGlyphs">158.125</text>
<rect x="1877.2" y="361.0" width="36.4" height="15.6" rx="2" fill="#d81b60"/>
<text x="1895.4" y="371.6" text-anchor="middle" font-family="Liberation Sans, sans-serif" font-size="8.5" fill="#ffffff" textLength="28" lengthAdjust="spacingAndGlyphs">157.517</text>
<rect x="1877.2" y="376.4" width="36.4" height="15.6" rx="2" fill="#139c7c"/>
<text x="1895.4" y="387.0" text-anchor="middle" font-family="Liberation Sans, sans-serif" font-size="8.5" fill="#ffffff" textLength="28" lengthAdjust="spacingAndGlyphs">157.348</text>
<rect x="1877.2" y="394.0" width="36.4" height="15.6" rx="2" fill="#6e7079"/>
<text x="1895.4" y="404.6" text-anchor="middle" font-family="Liberation Sans, sans-serif" font-size="8.5" fill="#ffffff" textLength="28" lengthAdjust="spacingAndGlyphs">157.144</text>
<rect x="1877.2" y="674.0" width="36.4" height="15.6" rx="2" fill="#6e7079"/>
<text x="1895.4" y="684.6" text-anchor="middle" font-family="Liberation Sans, sans-serif" font-size="8.5" fill="#ffffff" textLength="28" lengthAdjust="spacingAndGlyphs">154.037</text>
<rect x="1877.2" y="765.8" width="36.4" height="15.6" rx="2" fill="#ef4a4e"/>
<text x="1895.4" y="776.4" text-anchor="middle" font-family="Liberation Sans, sans-serif" font-size="8.5" fill="#ffffff" textLength="28" lengthAdjust="spacingAndGlyphs">153.009</text>
<rect x="1877.2" y="809.5" width="36.4" height="15.6" rx="2" fill="#139c7c"/>
<text x="1895.4" y="820.1" text-anchor="middle" font-family="Liberation Sans, sans-serif" font-size="8.5" fill="#ffffff" textLength="28" lengthAdjust="spacingAndGlyphs">152.521</text>
<rect x="1877.2" y="855.5" width="36.4" height="15.6" rx="2" fill="#d81b60"/>
<text x="1895.4" y="866.1" text-anchor="middle" font-family="Liberation Sans, sans-serif" font-size="8.5" fill="#ffffff" textLength="28" lengthAdjust="spacingAndGlyphs">152.010</text>
<g font-family="Liberation Sans, sans-serif" font-size="8.3" fill="#2b2b2b"><text x="70.1" y="985.8" text-anchor="middle">Jan 07 19:00</text><text x="138.7" y="985.8" text-anchor="middle">23:00</text><text x="207.2" y="985.8" text-anchor="middle">Jan 14 03:00</text><text x="275.8" y="985.8" text-anchor="middle">07:00</text><text x="344.4" y="985.8" text-anchor="middle">Jan 20 11:00</text><text x="413.0" y="985.8" text-anchor="middle">15:00</text><text x="481.5" y="985.8" text-anchor="middle">Jan 26 19:00</text><text x="550.1" y="985.8" text-anchor="middle">23:00</text><text x="618.7" y="985.8" text-anchor="middle">Feb 02 03:00</text><text x="687.3" y="985.8" text-anchor="middle">07:00</text><text x="755.9" y="985.8" text-anchor="middle">11:00</text><text x="824.4" y="985.8" text-anchor="middle">Feb 10 15:00</text><text x="893.0" y="985.8" text-anchor="middle">19:00</text><text x="961.6" y="985.8" text-anchor="middle">Feb 16 23:00</text><text x="1030.2" y="985.8" text-anchor="middle">03:00</text><text x="1098.7" y="985.8" text-anchor="middle">Feb 23 07:00</text><text x="1167.3" y="985.8" text-anchor="middle">11:00</text><text x="1235.9" y="985.8" text-anchor="middle">15:00</text><text x="1304.5" y="985.8" text-anchor="middle">Mar 03 19:00</text><text x="1373.0" y="985.8" text-anchor="middle">23:00</text><text x="1441.6" y="985.8" text-anchor="middle">Mar 10 02:00</text><text x="1510.2" y="985.8" text-anchor="middle">06:00</text><text x="1578.8" y="985.8" text-anchor="middle">Mar 16 10:00</text><text x="1647.3" y="985.8" text-anchor="middle">14:00</text><text x="1715.9" y="985.8" text-anchor="middle">18:00</text><text x="1784.5" y="985.8" text-anchor="middle">Mar 24 22:00</text><text x="1853.1" y="985.8" text-anchor="middle">02:00</text></g>
<rect x="7.5" y="11" width="52.5" height="20.5" rx="4" fill="#f4f4f4"/>
<text x="14.6" y="25.7" font-family="Liberation Sans, sans-serif" font-size="9.8" fill="#2a2a2a">Charts</text>
<path d="M47.3 21.3l2.4 2.4 2.4-2.4" stroke="#555" stroke-width="0.9" fill="none"/>
<circle cx="75" cy="21.2" r="4.3" stroke="#333a40" stroke-width="1.2" fill="none"/><path d="M78.2 24.4L81 27.2" stroke="#333a40" stroke-width="1.3"/>
<path d="M92 16V31M129.5 16V31" stroke="#ececec" stroke-width="1"/>
<path d="M107.7 16.2V28.3" stroke="#333a40" stroke-width="1"/><rect x="106" y="18.5" width="3.4" height="7.2" rx="0.8" fill="#fff" stroke="#333a40" stroke-width="1.1"/>
<path d="M113.4 16.5V27.5" stroke="#2fd1a6" stroke-width="1"/><rect x="111.8" y="19.5" width="3.2" height="5.5" rx="0.8" fill="#fff" stroke="#2fd1a6" stroke-width="1.1"/>
<text x="141.5" y="26.1" font-family="Liberation Sans, sans-serif" font-size="9.7" fill="#2a2a2a">M1</text>
<text x="164.8" y="26.1" font-family="Liberation Sans, sans-serif" font-size="9.7" fill="#2a2a2a">M5</text>
<text x="188.5" y="26.1" font-family="Liberation Sans, sans-serif" font-size="9.7" fill="#2a2a2a">M10</text>
<text x="217" y="26.1" font-family="Liberation Sans, sans-serif" font-size="9.7" fill="#2a2a2a">M15</text>
<text x="245.8" y="26.1" font-family="Liberation Sans, sans-serif" font-size="9.7" fill="#2a2a2a">M30</text>
<text x="275.5" y="26.1" font-family="Liberation Sans, sans-serif" font-size="9.7" fill="#2a2a2a">H1</text>
<text x="296.8" y="26.1" font-family="Liberation Sans, sans-serif" font-size="9.7" fill="#2a2a2a">H2</text>
<text x="319.8" y="26.1" font-family="Liberation Sans, sans-serif" font-size="9.7" fill="#26cfa0">H4</text>
<text x="342.9" y="26.1" font-family="Liberation Sans, sans-serif" font-size="9.7" fill="#2a2a2a">H6</text>
<text x="365.9" y="26.1" font-family="Liberation Sans, sans-serif" font-size="9.7" fill="#2a2a2a">H8</text>
<text x="389" y="26.1" font-family="Liberation Sans, sans-serif" font-size="9.7" fill="#2a2a2a">H12</text>
<text x="415.9" y="26.1" font-family="Liberation Sans, sans-serif" font-size="9.7" fill="#2a2a2a">D1</text>
<text x="437.8" y="26.1" font-family="Liberation Sans, sans-serif" font-size="9.7" fill="#2a2a2a">W1</text>
<text x="460.7" y="26.1" font-family="Liberation Sans, sans-serif" font-size="9.7" fill="#2a2a2a">MN1</text>
<path d="M488.8 21.3l2.6 2.6 2.6-2.6" stroke="#555" stroke-width="0.9" fill="none"/>
<path d="M504.5 16V31M689.4 16V31M721.5 16V31M755 16V31" stroke="#ececec" stroke-width="1"/>
<text x="519" y="27" font-family="Liberation Serif, serif" font-style="italic" font-size="13" fill="#2a2a2a">f</text>
<path d="M525 24.8h4.2M527.1 22.7v4.2" stroke="#26cfa0" stroke-width="1.1"/>
<text x="533.3" y="26.1" font-family="Liberation Sans, sans-serif" font-size="9.7" fill="#2a2a2a">Indicators</text>
<path d="M579.3 21.6l2.2 2.2 2.2-2.2" stroke="#555" stroke-width="0.9" fill="none"/>
<text x="596.8" y="26.1" font-family="Liberation Sans, sans-serif" font-size="9.7" fill="#2a2a2a">MACD</text>
<text x="634" y="26.1" font-family="Liberation Sans, sans-serif" font-size="9.7" fill="#2a2a2a">RSI</text>
<rect x="667.8" y="16.3" width="11.2" height="11" rx="1.5" stroke="#333a40" stroke-width="1.2" fill="none"/><path d="M667.8 21.8H679" stroke="#333a40" stroke-width="1.1"/><path d="M670.5 19.2h6M670.5 24.4h6" stroke="#26cfa0" stroke-width="0.9"/>
<path d="M701 25.5h10.5M702.5 25.3v-4.5a3.7 3.7 0 0 1 7.4 0v4.5M704.5 27.3h3.5M706.2 15.5v1.3" stroke="#333a40" stroke-width="1.2" fill="none"/><path d="M710 18.3h3.6M711.8 16.5v3.6" stroke="#26cfa0" stroke-width="1"/>
<path d="M743.5 22V18.2a1.4 1.4 0 0 0-1.4-1.4h-9.2a1.4 1.4 0 0 0-1.4 1.4v8.2a1.4 1.4 0 0 0 1.4 1.4h4.2M731.5 20.2h12M734.7 15.3v3M740.3 15.3v3" stroke="#333a40" stroke-width="1.2" fill="none"/><path d="M744.5 25.5h-6.2M740.3 23.5l-2 2 2 2" stroke="#26cfa0" stroke-width="1.1" fill="none"/>
<path d="M768.2 17.5l-2 2.2 2.4 1.6M766.5 19.7h3.8a4 4 0 0 1 0 8h-1.8" stroke="#333a40" stroke-width="1.2" fill="none"/>
<defs><filter id="sh" x="-5%" y="-50%" width="110%" height="200%"><feDropShadow dx="0" dy="1.5" stdDeviation="1.6" flood-color="#000" flood-opacity="0.13"/></filter></defs>
<rect x="775.3" y="6.8" width="576.7" height="24.8" rx="4" fill="#ffffff" filter="url(#sh)"/>
<circle cx="785.6" cy="14.2" r="0.55" fill="#999"/><circle cx="785.6" cy="18.2" r="0.55" fill="#999"/><circle cx="785.6" cy="22.2" r="0.55" fill="#999"/><circle cx="790.2" cy="14.2" r="0.55" fill="#999"/><circle cx="790.2" cy="18.2" r="0.55" fill="#999"/><circle cx="790.2" cy="22.2" r="0.55" fill="#999"/>

<path d="M806 18.2H820" stroke="#333a40" stroke-width="1.2"/>
<path d="M842 10.7V25.8" stroke="#333a40" stroke-width="1.3"/>
<path d="M865 23.4L876.5 13.6" stroke="#333a40" stroke-width="1.1"/>
<rect x="893.3" y="12.9" width="13.4" height="11" stroke="#333a40" stroke-width="1.2" fill="none"/>
<path d="M928 19.5l8-7.5a1.2 1.2 0 0 1 1.6 1.6l-7.5 8M923.5 25.5c-2 0-2.5-2.5-1-4 1.3-1.3 3.8-1.8 5.2-.3 1.4 1.4.5 4.3-4.2 4.3z" stroke="#333a40" stroke-width="1.1" fill="none"/>
<path d="M951 15.5l14-3M951 24.6l14-3" stroke="#333a40" stroke-width="1.1"/><path d="M952 20.5l12-2.5" stroke="#333a40" stroke-width="0.9" stroke-dasharray="1.5 1.2"/>
<path d="M980 12.3h14.3M980 15.3h14.3M980 18.3h14.3M980 24h14.3" stroke="#333a40" stroke-width="1.1"/><path d="M981 21.2h12" stroke="#333a40" stroke-width="0.9" stroke-dasharray="1.5 1.2"/>
<path d="M1009 20v-6.5a2 2 0 0 1 2-2h11" stroke="#333a40" stroke-width="0.9" stroke-dasharray="1.5 1.2" fill="none"/><path d="M1008.7 22h14.3M1008.7 24.6h14.3M1008.7 27.2h14.3" stroke="#333a40" stroke-width="1.1"/>
<path d="M1038 12.3h11.5M1043.7 12.3v13.5M1041.2 25.8h5" stroke="#333a40" stroke-width="1.2"/><rect x="1049" y="21.5" width="3.5" height="4" fill="#333a40"/>
<path d="M1066 12.2h15.5M1066 20.5h15.5M1066 24h15.5" stroke="#333a40" stroke-width="1.1"/><path d="M1067 18l13-3" stroke="#333a40" stroke-width="0.9" stroke-dasharray="1.5 1.2"/>
<path d="M1095 12.2h15.5M1095 15.5h15.5M1095 24h15.5" stroke="#333a40" stroke-width="1.1"/><path d="M1096 17.5l13 3" stroke="#333a40" stroke-width="0.9" stroke-dasharray="1.5 1.2"/>
<path d="M1125.5 25L1137 13.5" stroke="#111" stroke-width="1.3"/><path d="M1139 12l-7 1.8 5.2 5.2z" fill="#111"/>
<path d="M1152 22.5l5-4.5 4 3.2 9-7.5M1166.5 13.5h3.8v3.8" stroke="#333a40" stroke-width="1.2" fill="none"/>
<circle cx="1190" cy="18.1" r="7.6" stroke="#333a40" stroke-width="1.2" fill="none"/>
<path d="M1210.9 18.2h16.8M1211 15.8v4.8" stroke="#333a40" stroke-width="1.1"/>
<path d="M1240.8 21.2l14.5-7.7M1242.5 24.5l14-7.7" stroke="#333a40" stroke-width="1.2"/>
<path d="M1268.5 24.5l3-11 3 6 2-6 3 6 2.5-6 3 11" stroke="#333a40" stroke-width="1.1" fill="none"/><path d="M1270 21h15" stroke="#333a40" stroke-width="0.8" stroke-dasharray="1.2 1"/>
<path d="M1299 12.3h15v10h-9l-2.5 2.8v-2.8h-3.5z" stroke="#333a40" stroke-width="1.1" fill="none"/>
<text x="1306.5" y="20.6" text-anchor="middle" font-family="Liberation Sans, sans-serif" font-size="7.5" font-weight="bold" fill="#333a40">$</text>
<path d="M1328 12.3h15v10h-15zM1335.5 22.3v3" stroke="#333a40" stroke-width="1.1" fill="none"/>
<text x="1335.5" y="20.6" text-anchor="middle" font-family="Liberation Sans, sans-serif" font-size="7.5" font-weight="bold" fill="#333a40">$</text>

<path d="M1837 26.4a3 3 0 0 1-.6-5.9 4.2 4.2 0 0 1 8.2-1 3 3 0 0 1 1.7 5.7" stroke="#333a40" stroke-width="1.2" fill="none"/><path d="M1841.1 21.5v5.6M1838.8 24.8l2.3 2.3 2.3-2.3" stroke="#26cfa0" stroke-width="1.3" fill="none"/>
<path d="M1868.5 16.8h-2.8a1 1 0 0 0-1 1v8.6a1 1 0 0 0 1 1h9a1 1 0 0 0 1-1V23.5" stroke="#333a40" stroke-width="1.2" fill="none"/><path d="M1869 23.2l6.5-6.5M1871.5 16.5h4.3v4.3" stroke="#26cfa0" stroke-width="1.2" fill="none"/>
<rect x="1895.3" y="16.5" width="12.3" height="10.2" rx="1.2" stroke="#333a40" stroke-width="1.2" fill="none"/><path d="M1905.3 18.8v5.6M1898 21.6h5" stroke="#333a40" stroke-width="1.2"/><path d="M1900.3 19.5l-2.3 2.1 2.3 2.1" stroke="#333a40" stroke-width="1.2" fill="none"/>
<rect x="34.5" y="46" width="542" height="15" fill="#ffffff"/>
<circle cx="45.4" cy="53.7" r="5.6" fill="#14c08c"/>
<text x="45.4" y="55.9" text-anchor="middle" font-family="Liberation Sans, sans-serif" font-size="5.4" font-weight="bold" fill="#0b2b22">FB</text>
<text x="54.2" y="57.1" font-family="Liberation Sans, sans-serif" font-size="9.5" fill="#2a2a2a" textLength="193.8" lengthAdjust="spacingAndGlyphs">US Dollar vs Japanese Yen, H4, Unadjusted</text>
<circle cx="254.5" cy="53.5" r="3.5" fill="#14c08c"/>
<text x="264.2" y="57" font-family="Liberation Sans, sans-serif" font-size="9.1" fill="#2a2a2a">O =</text>
<text x="281" y="57" font-family="Liberation Sans, sans-serif" font-size="9.1" fill="#f06262">159.350</text>
<text x="318.2" y="57" font-family="Liberation Sans, sans-serif" font-size="9.1" fill="#2a2a2a">H =</text>
<text x="335" y="57" font-family="Liberation Sans, sans-serif" font-size="9.1" fill="#f06262">159.378</text>
<text x="372.2" y="57" font-family="Liberation Sans, sans-serif" font-size="9.1" fill="#2a2a2a">L =</text>
<text x="387.2" y="57" font-family="Liberation Sans, sans-serif" font-size="9.1" fill="#f06262">159.198</text>
<text x="424.4" y="57" font-family="Liberation Sans, sans-serif" font-size="9.1" fill="#2a2a2a">C =</text>
<text x="440.4" y="57" font-family="Liberation Sans, sans-serif" font-size="9.1" fill="#f06262">159.231</text>
<text x="477.5" y="57" font-family="Liberation Sans, sans-serif" font-size="9.1" fill="#2a2a2a">V</text>
<text x="485.5" y="57" font-family="Liberation Sans, sans-serif" font-size="9.1" fill="#f06262">5.94K</text>
<text x="514.7" y="57" font-family="Liberation Sans, sans-serif" font-size="9.1" fill="#f06262">-0.114 (-0.07%)</text>

<path d="M10.4 57.2h13.2M17 50.6v13.2" stroke="#26cfa0" stroke-width="1.2"/>
<path d="M10 83.5h13.8" stroke="#333a40" stroke-width="1.3"/>
<path d="M10 104.5h13.8M10 107.4h13.8M10 110.2h13.8M10 115.6h13.8" stroke="#333a40" stroke-width="1.1"/><path d="M11 113l12-1.5" stroke="#333a40" stroke-width="0.9" stroke-dasharray="1.6 1.2"/>
<path d="M8.5 142l3-9 3 5.5 2.5-7 2.5 7 3-5.5 3 9" stroke="#333a40" stroke-width="1.1" fill="none"/><path d="M10 139.5h14" stroke="#333a40" stroke-width="0.8" stroke-dasharray="1.2 1"/>
<path d="M9.5 157.5h14.3M9.5 168h14.3" stroke="#333a40" stroke-width="1.1"/><path d="M10.5 161l12 4.5" stroke="#333a40" stroke-width="0.9" stroke-dasharray="1.6 1.2"/>
<path d="M15.5 188.5l7-7a1.2 1.2 0 0 1 1.7 1.7l-7 7M11 196c-2.3 0-2.5-2.8-1.2-4.1 1.4-1.4 4-1.8 5.5-.3 1.5 1.5.4 4.4-4.3 4.4z" stroke="#333a40" stroke-width="1.1" fill="none"/>
<path d="M10 209.8h11M15.5 209.8v13.2M13 223h5" stroke="#333a40" stroke-width="1.2"/><rect x="20" y="217.5" width="4" height="4.5" fill="#333a40"/>
<rect x="10.2" y="235.5" width="13.6" height="13.2" rx="1.5" stroke="#333a40" stroke-width="1.2" fill="none"/><path d="M14 241.5c1.6 2.4 4.4 2.4 6 0" stroke="#333a40" stroke-width="1.1" fill="none"/>
<path d="M10.5 282l9.5-9.5 4 4-9.5 9.5zM13 279.5l1.4 1.4M15.2 277.3l1.4 1.4M17.4 275.1l1.4 1.4" stroke="#333a40" stroke-width="1.1" fill="none"/>
<circle cx="16.5" cy="305" r="5.8" stroke="#333a40" stroke-width="1.2" fill="none"/><path d="M20.7 309.2l3 3M14 305h5M16.5 302.5v5" stroke="#333a40" stroke-width="1.2"/>
<g transform="translate(17.2 338.5) rotate(45)"><path d="M-6.2 -6V0.8A6.2 6.2 0 0 0 6.2 0.8V-6H2.6V0.8A2.6 2.6 0 0 1 -2.6 0.8V-6z" stroke="#333a40" stroke-width="1.15" fill="none" stroke-linejoin="round"/><path d="M-6.2 -3H-2.6M2.6 -3H6.2" stroke="#333a40" stroke-width="1"/></g>
<path d="M8 262.5h18M8 323h18M8 437.5h18" stroke="#ededed" stroke-width="1"/>
<path d="M12.5 366.5l6.5-6.5a1.1 1.1 0 0 1 1.6 1.6l-6.5 6.5M9.8 371c-1.8 0-2-2.2-1-3.2 1.1-1.1 3.1-1.4 4.3-.2" stroke="#333a40" stroke-width="1.1" fill="none"/><rect x="18.5" y="368" width="6" height="4.5" rx="0.7" stroke="#333a40" stroke-width="1" fill="none"/><path d="M19.8 368v-1.2a1.7 1.7 0 0 1 3.4 0" stroke="#333a40" stroke-width="1" fill="none"/>
<rect x="10.5" y="393.5" width="12" height="8.5" rx="1.2" stroke="#333a40" stroke-width="1.2" fill="none"/><path d="M13 393.5v-2.8a3.5 3.5 0 0 1 7-.5M16.5 396.5v2.5" stroke="#333a40" stroke-width="1.2" fill="none"/>
<path d="M9 420.5c2.2-3.6 4.8-5.2 7.8-5.2s5.6 1.6 7.8 5.2c-2.2 3.6-4.8 5.2-7.8 5.2s-5.6-1.6-7.8-5.2z" stroke="#333a40" stroke-width="1.2" fill="none"/><circle cx="16.8" cy="420.5" r="2.3" stroke="#333a40" stroke-width="1.2" fill="none"/>
<path d="M10.5 450.5h13M14.5 450.5v-1.8h5v1.8M12 450.5l.8 11h8.4l.8-11M15.3 453.5v5.5M18.7 453.5v5.5" stroke="#333a40" stroke-width="1.1" fill="none"/>

<text x="1289" y="110.9" font-family="Liberation Sans, sans-serif" font-size="21.3" fill="#111111">USDJPY</text>
<text x="46.8" y="960" font-family="Liberation Sans, sans-serif" font-size="18.6" font-weight="bold" fill="#80e6cc" textLength="75" lengthAdjust="spacingAndGlyphs">FastBull</text>
<rect x="942" y="934" width="16" height="17" rx="3" fill="#fff" filter="url(#sh)"/>
<rect x="968" y="934" width="16" height="17" rx="3" fill="#fff" filter="url(#sh)"/>
<rect x="994" y="934" width="16" height="17" rx="3" fill="#fff" filter="url(#sh)"/>
<path d="M945.8 942.8h8.4M950 938.6v8.4M972 942.8h8.4" stroke="#333a40" stroke-width="1.1"/>
<path d="M998.6 942.8A4.1 4.1 0 1 1 1000.3 946.2" stroke="#333a40" stroke-width="1.15" fill="none"/><path d="M996.6 942.2L998.7 944.6L1000.6 942.1z" fill="#333a40"/>
<rect x="1851.6" y="933" width="15" height="17.5" rx="3" fill="#fff" filter="url(#sh)"/>
<path d="M1857.5 938.5l3.5 3.6-3.5 3.6" stroke="#333a40" stroke-width="1.1" fill="none"/>
<rect x="1882" y="953.5" width="13" height="15" rx="2" fill="#1b2230"/>
<text x="1888.5" y="964.3" text-anchor="middle" font-family="Liberation Sans, sans-serif" font-size="8" font-weight="bold" fill="#fff">A</text>
<rect x="1898.3" y="953.5" width="13" height="15" rx="2" fill="#fff" stroke="#f0f0f0" stroke-width="0.8"/>
<text x="1904.8" y="964.3" text-anchor="middle" font-family="Liberation Sans, sans-serif" font-size="8" fill="#333">L</text>
<path d="M1902.08 982.55L1903.41 982.88L1903.41 984.72L1902.08 985.05L1901.95 985.38L1902.65 986.55L1901.35 987.85L1900.18 987.15L1899.85 987.28L1899.52 988.61L1897.68 988.61L1897.35 987.28L1897.02 987.15L1895.85 987.85L1894.55 986.55L1895.25 985.38L1895.12 985.05L1893.79 984.72L1893.79 982.88L1895.12 982.55L1895.25 982.22L1894.55 981.05L1895.85 979.75L1897.02 980.45L1897.35 980.32L1897.68 978.99L1899.52 978.99L1899.85 980.32L1900.18 980.45L1901.35 979.75L1902.65 981.05L1901.95 982.22z" stroke="#333a40" stroke-width="1" fill="none" stroke-linejoin="round"/><circle cx="1898.6" cy="983.8" r="1.6" stroke="#333a40" stroke-width="1" fill="none"/>
<rect x="35.6" y="994" width="1877" height="30" rx="5" fill="#f4f4f4"/>
<rect x="5.1" y="993" width="23.8" height="24" rx="3.2" fill="#14dba6"/>
<path d="M17 999.3l1.9 4 4.3.5-3.2 2.9.9 4.3-3.9-2.2-3.9 2.2.9-4.3-3.2-2.9 4.3-.5z" stroke="#133a30" stroke-width="1.1" fill="none" stroke-linejoin="round"/>
<rect x="1197.8" y="997.2" width="114.8" height="30" rx="4" fill="#ffffff"/>
<text x="45.4" y="1011.8" font-family="Liberation Sans, sans-serif" font-size="9.4" fill="#222">XAGUSD, H4</text>
<path d="M137.8 1005.3l5.4 5.4M143.2 1005.3l-5.4 5.4" stroke="#777" stroke-width="0.9"/>
<path d="M152.8 1001.5V1015" stroke="#e2e2e2" stroke-width="1"/>
<text x="161.4" y="1011.8" font-family="Liberation Sans, sans-serif" font-size="9.4" fill="#222">XAGUSD, H1</text>
<path d="M253.8 1005.3l5.4 5.4M259.2 1005.3l-5.4 5.4" stroke="#777" stroke-width="0.9"/>
<path d="M268.8 1001.5V1015" stroke="#e2e2e2" stroke-width="1"/>
<text x="277.4" y="1011.8" font-family="Liberation Sans, sans-serif" font-size="9.4" fill="#222">US Dollar I... , H8</text>
<path d="M369.8 1005.3l5.4 5.4M375.2 1005.3l-5.4 5.4" stroke="#777" stroke-width="0.9"/>
<path d="M384.8 1001.5V1015" stroke="#e2e2e2" stroke-width="1"/>
<text x="393.4" y="1011.8" font-family="Liberation Sans, sans-serif" font-size="9.4" fill="#222">XAUUSD, H1</text>
<path d="M485.8 1005.3l5.4 5.4M491.2 1005.3l-5.4 5.4" stroke="#777" stroke-width="0.9"/>
<path d="M500.8 1001.5V1015" stroke="#e2e2e2" stroke-width="1"/>
<text x="509.4" y="1011.8" font-family="Liberation Sans, sans-serif" font-size="9.4" fill="#222">COPPER, H6</text>
<path d="M601.8 1005.3l5.4 5.4M607.2 1005.3l-5.4 5.4" stroke="#777" stroke-width="0.9"/>
<path d="M616.8 1001.5V1015" stroke="#e2e2e2" stroke-width="1"/>
<text x="625.3" y="1011.8" font-family="Liberation Sans, sans-serif" font-size="9.4" fill="#222">EURUSD, D1</text>
<path d="M717.7 1005.3l5.4 5.4M723.1 1005.3l-5.4 5.4" stroke="#777" stroke-width="0.9"/>
<path d="M732.7 1001.5V1015" stroke="#e2e2e2" stroke-width="1"/>
<text x="741.3" y="1011.8" font-family="Liberation Sans, sans-serif" font-size="9.4" fill="#222">GBPUSD, H4</text>
<path d="M833.7 1005.3l5.4 5.4M839.1 1005.3l-5.4 5.4" stroke="#777" stroke-width="0.9"/>
<path d="M848.7 1001.5V1015" stroke="#e2e2e2" stroke-width="1"/>
<text x="857.3" y="1011.8" font-family="Liberation Sans, sans-serif" font-size="9.4" fill="#222">USDCAD, H8</text>
<path d="M949.7 1005.3l5.4 5.4M955.1 1005.3l-5.4 5.4" stroke="#777" stroke-width="0.9"/>
<path d="M964.7 1001.5V1015" stroke="#e2e2e2" stroke-width="1"/>
<text x="973.3" y="1011.8" font-family="Liberation Sans, sans-serif" font-size="9.4" fill="#222">BTCUSD, H1</text>
<path d="M1065.7 1005.3l5.4 5.4M1071.1 1005.3l-5.4 5.4" stroke="#777" stroke-width="0.9"/>
<path d="M1080.7 1001.5V1015" stroke="#e2e2e2" stroke-width="1"/>
<text x="1089.3" y="1011.8" font-family="Liberation Sans, sans-serif" font-size="9.4" fill="#222">NZDUSD, H8</text>
<path d="M1181.7 1005.3l5.4 5.4M1187.1 1005.3l-5.4 5.4" stroke="#777" stroke-width="0.9"/>
<text x="1205.3" y="1011.8" font-family="Liberation Sans, sans-serif" font-size="9.4" font-weight="bold" fill="#222">USDJPY, H4</text>
<path d="M1297.7 1005.3l5.4 5.4M1303.1 1005.3l-5.4 5.4" stroke="#777" stroke-width="0.9"/>
<text x="1321.3" y="1011.8" font-family="Liberation Sans, sans-serif" font-size="9.4" fill="#222">WTI, H8</text>
<path d="M1413.7 1005.3l5.4 5.4M1419.1 1005.3l-5.4 5.4" stroke="#777" stroke-width="0.9"/>
<path d="M1428.7 1001.5V1015" stroke="#e2e2e2" stroke-width="1"/>
<text x="1437.3" y="1011.8" font-family="Liberation Sans, sans-serif" font-size="9.4" fill="#222">ETH-USDT, D1</text>
<path d="M1529.7 1005.3l5.4 5.4M1535.1 1005.3l-5.4 5.4" stroke="#777" stroke-width="0.9"/>
<path d="M1544.7 1001.5V1015" stroke="#e2e2e2" stroke-width="1"/>
<text x="1553.3" y="1011.8" font-family="Liberation Sans, sans-serif" font-size="9.4" fill="#222">AUDUSD, H4</text>
<path d="M1645.7 1005.3l5.4 5.4M1651.1 1005.3l-5.4 5.4" stroke="#777" stroke-width="0.9"/>
<path d="M1660.7 1001.5V1015" stroke="#e2e2e2" stroke-width="1"/>
<text x="1669.3" y="1011.8" font-family="Liberation Sans, sans-serif" font-size="9.4" fill="#222">USDCHF, H8</text>
<path d="M1761.6 1005.3l5.4 5.4M1767.0 1005.3l-5.4 5.4" stroke="#777" stroke-width="0.9"/>
<path d="M1776.6 1001.5V1015" stroke="#e2e2e2" stroke-width="1"/>
<text x="1785.2" y="1011.8" font-family="Liberation Sans, sans-serif" font-size="9.4" fill="#222">HK50, I</text>
<rect x="1819" y="996" width="94" height="22" fill="#f4f4f4"/>
<path d="M1826.5 1007.7h8.2M1830.6 1003.6v8.2" stroke="#333a40" stroke-width="1.2"/>
<rect x="1848.2" y="1003.2" width="11.5" height="8.8" rx="1" stroke="#333a40" stroke-width="1.2" fill="none"/><path d="M1848.2 1007.6h11.5M1853.5 1003.2v8.8" stroke="#333a40" stroke-width="1.1"/>
<rect x="1873.2" y="1004.2" width="9.6" height="6.2" rx="2" stroke="#333a40" stroke-width="1.3" fill="none"/>
<path d="M1896.3 1006v-2.8h2.8M1904.3 1003.2h2.8v2.8M1907.1 1008.8v2.8h-2.8M1899.1 1011.6h-2.8v-2.8" stroke="#333a40" stroke-width="1.2" fill="none"/>
</svg>
</body></html>
